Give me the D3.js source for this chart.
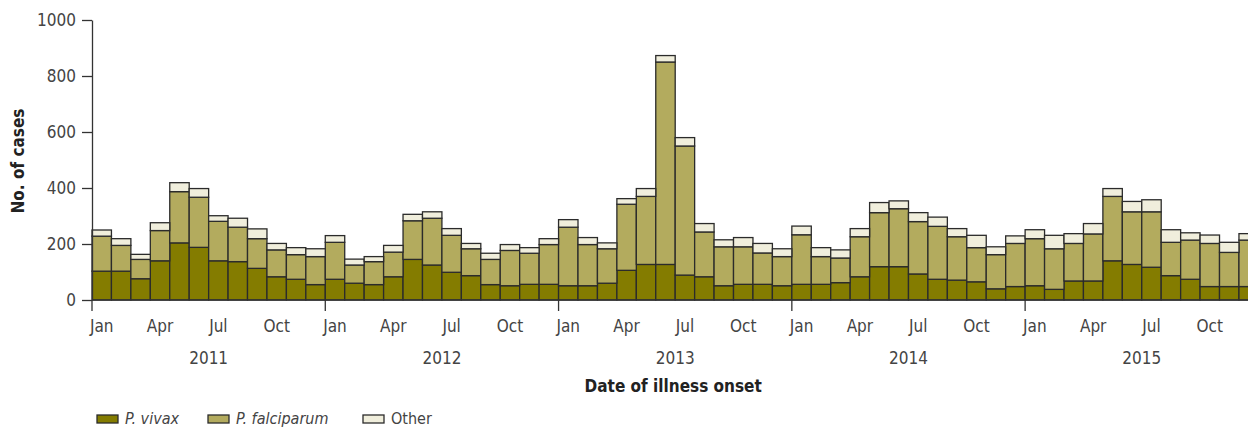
<!DOCTYPE html>
<html lang="en">
<head>
    <meta charset="UTF-8">
    <title>Malaria cases by date of illness onset</title>
    <script src="https://d3js.org/d3.v7.min.js"></script>
    <style>
        body { margin: 0; background: #fff; }
        text {
            font-family: "DejaVu Sans Condensed", "Liberation Sans Narrow", sans-serif;
            fill: #444;
        }
        .axis path, .axis line { stroke: #333; stroke-width: 1.3px; }
        .title { font-weight: bold; fill: #222; }
    </style>
</head>
<body>
<script>
    // monthly counts, Jan 2011 .. Dec 2015
    const years = [2011, 2012, 2013, 2014, 2015];
    const monthNames = ['Jan', 'Feb', 'Mar', 'Apr', 'May', 'Jun', 'Jul', 'Aug', 'Sep', 'Oct', 'Nov', 'Dec'];
    const monthTicks = ['Jan', 'Apr', 'Jul', 'Oct'];
    const yTicks = [0, 200, 400, 600, 800, 1000];

    const vivax = [103, 103, 76, 140, 204, 188, 140, 137, 113, 83, 74, 55,
        74, 60, 55, 83, 145, 125, 99, 87, 55, 51, 56, 56,
        51, 51, 60, 106, 127, 127, 89, 83, 51, 56, 56, 51,
        56, 56, 62, 83, 119, 119, 93, 74, 71, 65, 40, 48,
        51, 38, 68, 68, 140, 127, 117, 87, 74, 48, 48, 48];
    const falciparum = [125, 92, 69, 108, 183, 179, 141, 123, 106, 96, 88, 100,
        132, 65, 82, 88, 138, 167, 132, 96, 90, 126, 111, 142,
        209, 147, 123, 236, 243, 723, 461, 160, 139, 134, 112, 104,
        177, 99, 88, 143, 193, 207, 187, 189, 155, 122, 122, 154,
        168, 145, 134, 168, 230, 188, 198, 119, 140, 154, 122, 166];
    const other = [22, 24, 18, 28, 32, 31, 20, 32, 35, 23, 25, 28,
        24, 21, 18, 24, 23, 23, 24, 19, 22, 21, 20, 21,
        27, 25, 21, 20, 28, 23, 30, 30, 25, 33, 34, 28,
        31, 32, 29, 29, 36, 28, 32, 33, 29, 44, 28, 27,
        32, 48, 35, 37, 28, 37, 43, 45, 26, 30, 36, 23];

    const seriesKeys = ['vivax', 'falciparum', 'other'];
    const seriesLabels = ['P. vivax', 'P. falciparum', 'Other'];
    const colors = ['#847c00', '#b3ab5e', '#f0eedc'];

    const rows = [];
    years.forEach((yr, yi) => monthNames.forEach((m, mi) => {
        const i = yi * 12 + mi;
        rows.push({ key: yr + '-' + m, year: yr, month: m, vivax: vivax[i], falciparum: falciparum[i], other: other[i] });
    }));

    const width = 1248, height = 429;
    const left = 92, monthW = 19.44;
    const right = left + monthW * rows.length;

    const svg = d3.select('body').append('svg')
        .attr('width', width)
        .attr('height', height);

    const x = d3.scaleBand()
        .domain(rows.map(d => d.key))
        .range([left, right])
        .padding(0);

    const y = d3.scaleLinear()
        .domain([0, 1000])
        .range([300, 20]);

    const stack = d3.stack().keys(seriesKeys)(rows);

    const layers = svg.append('g')
        .selectAll('g')
        .data(stack)
        .join('g')
        .attr('fill', (d, i) => colors[i]);

    layers.selectAll('rect')
        .data(d => d)
        .join('rect')
        .attr('x', d => x(d.data.key))
        .attr('y', d => y(d[1]))
        .attr('width', x.bandwidth())
        .attr('height', d => y(d[0]) - y(d[1]))
        .attr('stroke', '#2b2b2b')
        .attr('stroke-width', 1.3);

    // y axis
    const yAxis = svg.append('g')
        .attr('class', 'axis')
        .attr('transform', `translate(${left},0)`)
        .call(d3.axisLeft(y).tickValues(yTicks).tickFormat(d3.format('d'))
            .tickSize(10).tickSizeOuter(0).tickPadding(6));
    yAxis.selectAll('text')
        .style('font-size', '17px')
        .style('font-family', '"DejaVu Sans Condensed", sans-serif')
        .attr('fill', '#444');

    // x axis: baseline, year ticks, month labels, year labels
    const xAxis = svg.append('g').attr('class', 'axis');
    xAxis.append('line')
        .attr('x1', left).attr('x2', right)
        .attr('y1', y(0)).attr('y2', y(0));

    xAxis.selectAll('.yeartick')
        .data(years)
        .join('line')
        .attr('class', 'yeartick')
        .attr('x1', d => x(d + '-Jan')).attr('x2', d => x(d + '-Jan'))
        .attr('y1', y(0)).attr('y2', y(0) + 11);

    xAxis.selectAll('.mlabel')
        .data(rows.filter(d => monthTicks.includes(d.month)))
        .join('text')
        .attr('class', 'mlabel')
        .attr('x', d => x(d.key) + x.bandwidth() / 2)
        .attr('y', 332)
        .attr('text-anchor', 'middle')
        .style('font-size', '17px')
        .text(d => d.month);

    xAxis.selectAll('.ylabel')
        .data(years)
        .join('text')
        .attr('class', 'ylabel')
        .attr('x', d => (x(d + '-Jan') + x(d + '-Dec') + x.bandwidth()) / 2)
        .attr('y', 364)
        .attr('text-anchor', 'middle')
        .style('font-size', '17px')
        .text(d => d);

    svg.append('text')
        .attr('class', 'title')
        .attr('x', (left + right) / 2 - 2)
        .attr('y', 392)
        .attr('text-anchor', 'middle')
        .style('font-size', '17px')
        .text('Date of illness onset');

    svg.append('text')
        .attr('class', 'title')
        .attr('transform', 'translate(24,161) rotate(-90)')
        .attr('text-anchor', 'middle')
        .style('font-size', '17px')
        .text('No. of cases');

    // legend
    const legendX = [97, 208, 363];
    const legend = svg.append('g')
        .selectAll('g')
        .data(seriesLabels)
        .join('g')
        .attr('transform', (d, i) => `translate(${legendX[i]},415)`);

    legend.append('rect')
        .attr('width', 21).attr('height', 8)
        .attr('fill', (d, i) => colors[i])
        .attr('stroke', '#2b2b2b')
        .attr('stroke-width', 1.3);

    legend.append('text')
        .attr('x', 28)
        .attr('y', 9)
        .style('font-size', '16px')
        .style('font-style', (d, i) => i < 2 ? 'italic' : 'normal')
        .text(d => d);
</script>
</body>
</html>
